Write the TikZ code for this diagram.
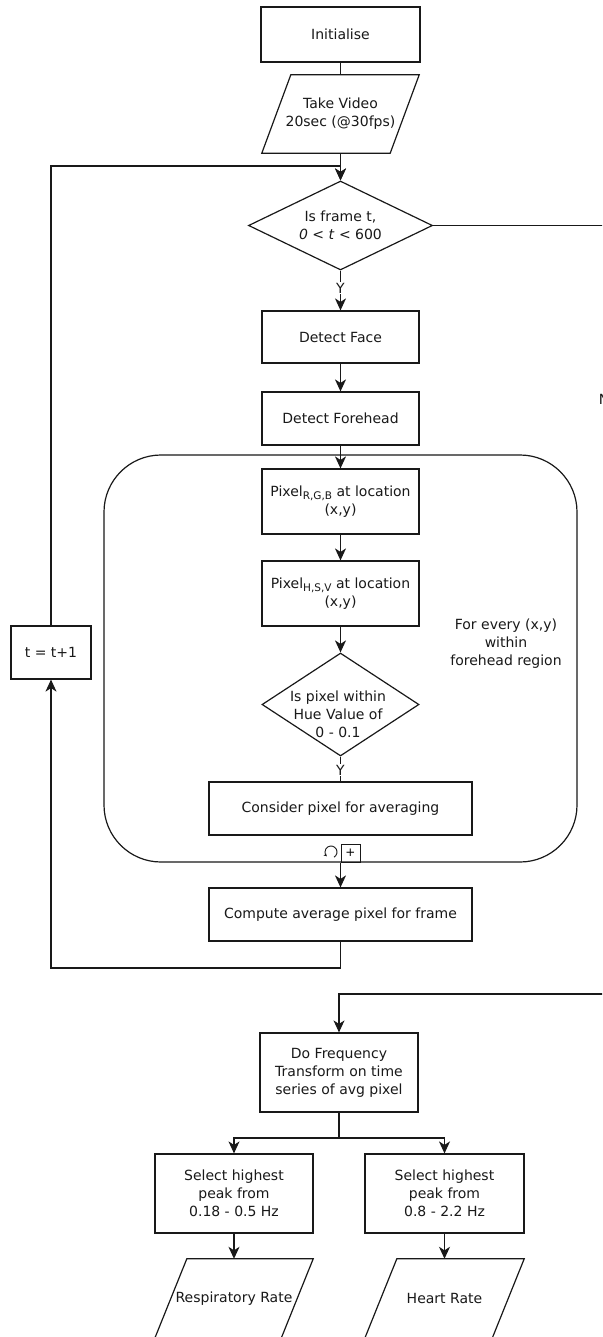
\documentclass[tikz,border=0pt]{standalone}
\usepackage{fontspec}
\setmainfont{DejaVu Sans}
\usetikzlibrary{shapes.geometric,arrows.meta,calc}
\newcommand\drawpara[2]{\draw[con] ($(#1.north west)+(#2,0)$) -- (#1.north east) -- ($(#1.south east)-(#2,0)$) -- (#1.south west) -- cycle;}
\newcommand\subtx[1]{\raisebox{-0.45ex}{\fontsize{10.5}{10.5}\selectfont #1}}
\begin{document}
\begin{tikzpicture}[x=1pt,y=-1pt,
  txt/.style={font=\fontsize{14}{18}\selectfont, text=black!90, align=center},
  con/.style={draw=black!90, line width=1.2pt},
  box/.style={txt, con, rectangle, inner sep=0pt},
  plain/.style={txt, inner sep=0pt},
  dia/.style={con, diamond, inner sep=0pt},
  arr/.style={con, -{Stealth[length=12pt,width=11pt,inset=3.5pt]}},
  lbl/.style={txt, fill=white, inner sep=1pt},
]
\useasboundingbox (0,0) rectangle (602,1337);
\clip (0,0) rectangle (602,1337);
\fill[white] (0,0) rectangle (602,1337);

% container
\node[con, rounded corners=57pt, minimum width=473pt, minimum height=407pt, inner sep=0pt] (cont) at (340.5,658.5) {};

% nodes
\node[box, minimum width=159pt, minimum height=55pt] (init) at (340.5,34.5) {Initialise};
\node[plain, minimum width=157pt, minimum height=78pt] (video) at (340.5,114) {Take Video\\20sec (@30fps)};
\drawpara{video}{29pt}
\node[dia, minimum width=184pt, minimum height=89pt] (d1) at (340.5,225.5) {};
\node[plain] (d1t) at (340.5,225.5) {Is frame t,\\\textit{0} < \textit{t} < 600};
\node[box, minimum width=157pt, minimum height=52pt] (face) at (340.5,337) {Detect Face};
\node[box, minimum width=157pt, minimum height=53pt] (fore) at (340.5,418.5) {Detect Forehead};
\node[box, minimum width=157pt, minimum height=65pt] (rgb) at (340.5,501.5) {Pixel\subtx{R,G,B} at location\\(x,y)};
\node[box, minimum width=157pt, minimum height=65pt] (hsv) at (340.5,593.5) {Pixel\subtx{H,S,V} at location\\(x,y)};
\node[dia, minimum width=157pt, minimum height=103pt] (d2) at (340.5,704.5) {};
\node[plain] (d2t) at (338,714) {Is pixel within\\Hue Value of\\0 - 0.1};
\node[box, minimum width=263pt, minimum height=53pt] (cons) at (340.5,808.5) {Consider pixel for averaging};
\node[plain] (every) at (506,644) {For every (x,y)\\within\\forehead region};
\node[box, minimum width=263pt, minimum height=53pt] (comp) at (340.5,914.5) {Compute average pixel for frame};
\node[box, minimum width=80pt, minimum height=53pt] (tbox) at (51,652.5) {t = t+1};
\node[box, minimum width=158pt, minimum height=79pt] (freq) at (339,1072.5) {Do Frequency\\Transform on time\\series of avg pixel};
\node[box, minimum width=158pt, minimum height=79pt] (sel1) at (234,1193.5) {Select highest\\peak from\\0.18 - 0.5 Hz};
\node[box, minimum width=159pt, minimum height=79pt] (sel2) at (444.5,1193.5) {Select highest\\peak from\\0.8 - 2.2 Hz};
\node[plain, minimum width=158pt, minimum height=79pt] (resp) at (234,1298.5) {Respiratory Rate};
\drawpara{resp}{32pt}
\node[plain, minimum width=159pt, minimum height=79pt] (heart) at (444.5,1298.5) {Heart Rate};
\drawpara{heart}{32pt}

% loop marker
\draw[line width=0.9pt, draw=black!90, -{Stealth[length=3pt,width=3.5pt]}] (334,857.2) arc[start angle=60, end angle=-225, radius=6];
\node[con, line width=0.9pt, minimum width=19pt, minimum height=18pt, inner sep=0pt, font=\fontsize{12}{12}\selectfont] (plus) at (350.5,853) {+};

% coordinates
\coordinate (lb) at (51,968);
\coordinate (lt) at (51,166);
\coordinate (nr) at (605,994);
\coordinate (split) at (339,1138);

% connectors
\draw[con] (init.south) -- (video.north);
\draw[arr] (video.south) -- (d1.north);
\draw[arr] (tbox.north) -- (lt) -| (d1.north);
\draw[arr] (comp.south) |- (lb) -- (tbox.south);
\draw[arr] (d1.east) -| (nr) -| (freq.north);
\node[lbl] (nlab) at (604,399) {N};
\draw[arr] (d1.south) -- (face.north);
\node[lbl] (y1) at (340.5,288) {Y};
\draw[arr] (face) -- (fore);
\draw[arr] (fore) -- (rgb);
\draw[arr] (rgb) -- (hsv);
\draw[arr] (hsv.south) -- (d2.north);
\draw[con] (d2.south) -- (cons.north);
\node[lbl] (y2) at (340.5,770) {Y};
\draw[arr] (cont.south) -- (comp.north);
\draw[con] (freq.south) -- (split);
\draw[arr] (split) -| (sel1.north);
\draw[arr] (split) -| (sel2.north);
\draw[arr] (sel1.south) -- (resp.north);
\draw[arr] (sel2.south) -- (heart.north);
\end{tikzpicture}
\end{document}
